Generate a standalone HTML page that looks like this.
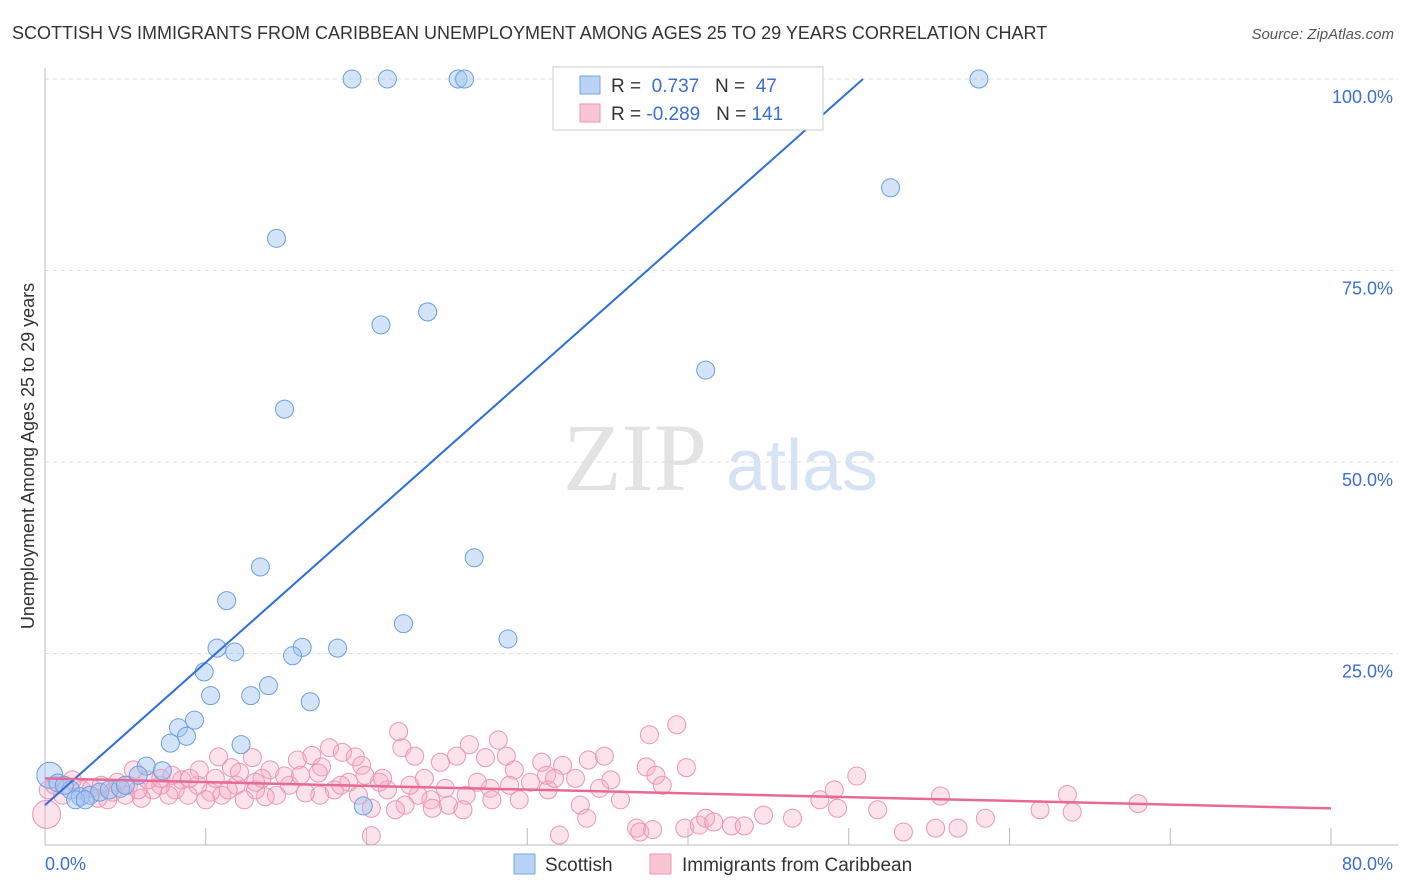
<!DOCTYPE html>
<html><head><meta charset="utf-8"><style>
body{margin:0;background:#fff;font-family:"Liberation Sans",sans-serif;}
svg{display:block}
</style></head><body>
<svg id="chart" width="1406" height="892" xmlns="http://www.w3.org/2000/svg">
<text x="12" y="39" font-size="18" fill="#333">SCOTTISH VS IMMIGRANTS FROM CARIBBEAN UNEMPLOYMENT AMONG AGES 25 TO 29 YEARS CORRELATION CHART</text>
<text x="1394" y="39" font-size="15" fill="#555" font-style="italic" text-anchor="end">Source: ZipAtlas.com</text>
<text x="635" y="490" font-size="96" fill="#e3e3e3" font-family="Liberation Serif,serif" text-anchor="middle">ZIP</text>
<text x="802" y="490" font-size="72" fill="#d6e3f5" text-anchor="middle">atlas</text>
<g id="grid"></g>
<g id="axes"></g>
<g id="pts"></g>
<g id="lines"></g>
<text transform="translate(34,456) rotate(-90)" font-size="18" fill="#333" text-anchor="middle">Unemployment Among Ages 25 to 29 years</text>
<g>
<rect x="553" y="67" width="270" height="63" fill="#fff" stroke="#ccc"/>
<rect x="580" y="76" width="20" height="18" fill="#b8d3f5" stroke="#7aa7e0"/>
<rect x="580" y="104" width="20" height="18" fill="#f9c5d5" stroke="#eb96b2"/>
<text x="611" y="92" font-size="19" fill="#333">R = <tspan fill="#3a6fd0">&#160;0.737</tspan>&#160;&#160;&#160;N = <tspan fill="#3a6fd0">&#160;47</tspan></text>
<text x="611" y="120" font-size="19" fill="#333">R = <tspan fill="#3a6fd0">-0.289</tspan>&#160;&#160;&#160;N = <tspan fill="#3a6fd0">141</tspan></text>
</g>
<g>
<rect x="514" y="854" width="21" height="20" fill="#b8d3f5" stroke="#7aa7e0"/>
<text x="545" y="871" font-size="19" fill="#333">Scottish</text>
<rect x="650" y="854" width="21" height="20" fill="#f9c5d5" stroke="#eb96b2"/>
<text x="682" y="871" font-size="19" fill="#333">Immigrants from Caribbean</text>
</g>
</svg>
<script>
const xTickVals=[0,10,20,30,40,50,60,70,80];
const yTickVals=[25,50,75,100];
const xLabels=["0.0%","80.0%"];
const yLabels=["25.0%","50.0%","75.0%","100.0%"];
const scottish=[[19.1,100],[21.3,100],[25.7,100],[26.1,100],[58.1,100],[52.6,85.8],[14.4,79.2],[20.9,67.9],[23.8,69.6],[41.1,62.0],[14.9,56.9],[13.4,36.3],[26.7,37.5],[11.3,31.9],[22.3,28.9],[28.8,26.9],[10.7,25.7],[11.8,25.2],[16.0,25.8],[18.2,25.7],[15.4,24.7],[9.9,22.6],[13.9,20.8],[10.3,19.5],[12.8,19.5],[16.5,18.7],[9.3,16.3],[8.3,15.3],[8.8,14.2],[7.8,13.3],[12.2,13.1],[6.3,10.3],[7.3,9.7],[5.8,9.1],[19.8,5.1],[0.3,9.1],[0.8,8.1],[1.6,7.2],[2.2,6.3],[2.8,6.5],[3.4,6.9],[4.0,7.2],[4.7,7.4],[5.0,7.8],[1.2,7.8],[1.9,5.9],[2.5,5.9]];
const caribbean=[[10.8,11.5],[11.6,10.1],[12.9,11.4],[14.0,9.8],[15.7,11.1],[16.6,11.7],[17.2,10.2],[17.7,12.7],[18.5,12.1],[19.3,11.5],[19.7,10.4],[22.0,14.8],[22.2,12.7],[23.0,11.6],[24.6,10.8],[26.4,13.1],[25.6,11.6],[27.4,11.4],[28.2,13.7],[28.7,11.6],[29.2,9.8],[30.9,10.8],[31.2,9.1],[32.2,10.4],[33.8,11.1],[34.8,11.6],[35.2,8.5],[37.4,10.2],[37.6,14.4],[38.0,9.1],[39.3,15.7],[39.9,10.1],[38.4,7.8],[34.5,7.4],[35.8,5.9],[33.3,5.2],[31.3,7.2],[29.5,5.9],[27.7,7.4],[26.2,6.5],[25.1,5.2],[24.0,5.9],[23.2,6.5],[22.4,5.2],[21.3,7.2],[20.8,8.2],[20.3,4.8],[19.5,6.5],[18.9,8.2],[18.0,7.2],[17.1,6.5],[16.2,6.8],[15.2,7.8],[14.4,6.5],[13.7,6.3],[13.1,7.2],[12.4,5.9],[11.9,7.8],[11.0,6.5],[10.3,6.9],[9.5,7.8],[8.9,6.5],[8.5,8.5],[8.1,7.2],[7.7,6.5],[7.2,7.8],[6.7,7.2],[6.0,6.1],[5.5,9.8],[5.2,7.8],[21.8,4.6],[24.1,4.8],[26.0,4.6],[27.8,5.9],[32.0,1.3],[20.3,1.2],[33.7,3.5],[36.8,2.2],[37.0,1.7],[37.8,2.0],[39.8,2.2],[40.7,2.6],[41.1,3.5],[41.6,3.0],[42.7,2.5],[43.5,2.5],[44.7,3.9],[46.5,3.5],[48.2,5.9],[49.1,7.2],[49.3,4.8],[50.5,9.0],[51.8,4.6],[53.4,1.7],[55.4,2.2],[55.7,6.4],[56.8,2.2],[58.5,3.5],[61.9,4.6],[63.6,6.6],[63.9,4.3],[68.0,5.4],[9.6,9.8],[10.6,8.7],[12.1,9.5],[13.5,8.7],[14.9,9.0],[15.9,9.1],[17.0,9.4],[18.4,7.8],[19.9,9.1],[21.0,8.7],[22.7,7.8],[23.6,8.7],[24.9,7.4],[26.9,8.2],[28.9,7.8],[30.2,8.2],[31.7,8.7],[33.0,8.7],[0.2,7.2],[0.6,7.8],[1.1,6.5],[1.7,8.5],[2.3,7.2],[2.9,7.4],[3.5,7.8],[4.2,6.9],[4.5,8.2],[3.3,6.1],[3.9,5.9],[5.0,6.5],[5.8,7.2],[6.4,8.5],[7.2,8.7],[7.9,9.1],[9.0,8.7],[10.0,5.9],[11.4,7.2],[13.1,8.2],[0.1,4.0]];
const scottishFit=[5.2,1.863];   // intercept, slope
const caribbeanFit=[8.7,-0.049];
const X0=45,X1=1331,Y0=845,Y100=79;
const sx=v=>X0+(X1-X0)*v/80;
const sy=v=>Y0-(Y0-Y100)*v/100;
const NS="http://www.w3.org/2000/svg";
function mk(tag,attrs,parent){const e=document.createElementNS(NS,tag);for(const k in attrs)e.setAttribute(k,attrs[k]);parent.appendChild(e);return e;}
const grid=document.getElementById('grid'),axes=document.getElementById('axes'),pts=document.getElementById('pts'),lines=document.getElementById('lines'),svg=document.getElementById('chart');
yTickVals.forEach((v,i)=>{
  const g=mk('line',{x1:X0,x2:1398,y1:sy(v),y2:sy(v),stroke:'#ddd','stroke-dasharray':'4,4'},grid);
  
  
  const t=mk('text',{x:1393,y:sy(v)+24,'font-size':18,fill:'#3a6fd0','text-anchor':'end'},axes);
  t.textContent=yLabels[i];
  
  
});
const ya=mk('line',{x1:X0,x2:X0,y1:68,y2:Y0,stroke:'#bbb'},axes);


const xa=mk('line',{x1:X0,x2:1398,y1:Y0,y2:Y0,stroke:'#bbb'},axes);


xTickVals.forEach(v=>{
  const t=mk('line',{x1:sx(v),x2:sx(v),y1:828,y2:Y0,stroke:'#bbb'},axes);
  
  
});
const xl0=mk('text',{x:45,y:870,'font-size':18,fill:'#3a6fd0'},axes);xl0.textContent=xLabels[0];


const xl1=mk('text',{x:1393,y:870,'font-size':18,fill:'#3a6fd0','text-anchor':'end'},axes);xl1.textContent=xLabels[1];


caribbean.forEach((d,i)=>{
  const c=mk('circle',{cx:sx(d[0]),cy:sy(d[1]),r:i===caribbean.length-1?14:9,fill:'rgba(246,172,198,0.35)',stroke:'#eb96b2','stroke-width':1},pts);
  
  
});
scottish.forEach((d,i)=>{
  const c=mk('circle',{cx:sx(d[0]),cy:sy(d[1]),r:i===35?13:9,fill:'rgba(160,196,240,0.45)',stroke:'#6c9fe0','stroke-width':1},pts);
  
  
});
const bx1=(100-scottishFit[0])/scottishFit[1];
const bl=mk('line',{x1:sx(0),y1:sy(scottishFit[0]),x2:sx(bx1),y2:sy(100),stroke:'#2f6fd8','stroke-width':2},lines);


const pl=mk('line',{x1:sx(0),y1:sy(caribbeanFit[0]),x2:sx(80),y2:sy(caribbeanFit[0]+80*caribbeanFit[1]),stroke:'#e86a94','stroke-width':2.5},lines);


</script>
</body></html>
